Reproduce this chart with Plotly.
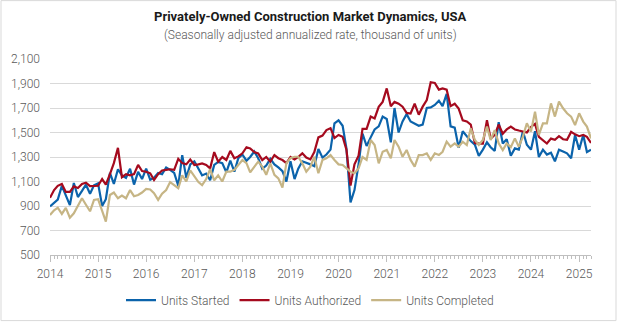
import pandas as pd
import plotly.graph_objects as go

# Monthly series, thousands of units (SAAR), January 2014 - April 2025
started = [
    897, 928, 953, 1064, 984, 907, 1088, 973, 1023, 1074, 1000, 1069,      # 2014
    1085, 900, 955, 1170, 1080, 1200, 1150, 1130, 1205, 1075, 1179, 1120,   # 2015
    1205, 1115, 1130, 1170, 1160, 1215, 1195, 1170, 1065, 1315, 1130, 1240,  # 2016
    1265, 1205, 1150, 1165, 1110, 1235, 1260, 1250, 1175, 1270, 1180, 1290,  # 2017
    1320, 1270, 1300, 1345, 1290, 1205, 1230, 1285, 1240, 1215, 1185, 1100,  # 2018
    1265, 1120, 1205, 1265, 1255, 1240, 1225, 1365, 1295, 1320, 1360, 1575,  # 2019
    1600, 1555, 1370, 930, 1030, 1240, 1490, 1390, 1460, 1525, 1550, 1630,   # 2020
    1610, 1420, 1700, 1500, 1590, 1650, 1590, 1575, 1555, 1565, 1700, 1705,  # 2021
    1725, 1760, 1715, 1815, 1550, 1540, 1375, 1510, 1470, 1430, 1400, 1310,  # 2022
    1360, 1420, 1380, 1350, 1585, 1410, 1445, 1310, 1370, 1360, 1510, 1400,  # 2023
    1360, 1510, 1300, 1360, 1320, 1335, 1265, 1360, 1345, 1330, 1290, 1480,  # 2024
    1360, 1480, 1340, 1360,                                                  # 2025
]
authorized = [
    967, 1030, 1065, 1080, 1015, 1015, 1060, 1047, 1080, 1090, 1062, 1063,
    1065, 1120, 1075, 1160, 1250, 1375, 1135, 1160, 1150, 1160, 1235, 1185,
    1180, 1167, 1112, 1160, 1190, 1195, 1200, 1195, 1285, 1250, 1240, 1280,
    1235, 1240, 1248, 1235, 1207, 1340, 1262, 1300, 1276, 1350, 1290, 1305,
    1330, 1380, 1370, 1340, 1330, 1275, 1300, 1262, 1316, 1290, 1275, 1250,
    1300, 1280, 1300, 1330, 1295, 1280, 1340, 1460, 1475, 1520, 1535, 1455,
    1480, 1465, 1360, 1066, 1240, 1310, 1530, 1530, 1630, 1615, 1710, 1750,
    1860, 1715, 1750, 1735, 1711, 1660, 1655, 1735, 1645, 1711, 1765, 1910,
    1905, 1850, 1860, 1850, 1715, 1735, 1695, 1600, 1590, 1565, 1415, 1410,
    1410, 1600, 1450, 1480, 1565, 1490, 1525, 1548, 1525, 1516, 1510, 1500,
    1545, 1570, 1465, 1440, 1410, 1450, 1440, 1470, 1445, 1440, 1505, 1485,
    1470, 1480, 1465, 1415,
]
completed = [
    827, 865, 886, 835, 885, 804, 840, 900, 963, 910, 857, 950,
    955, 860, 772, 990, 1010, 963, 985, 963, 1030, 980, 990, 1010,
    1040, 1035, 1005, 950, 1000, 1030, 1095, 1070, 1045, 1150, 1100, 1190,
    1140, 1095, 1070, 1120, 1200, 1110, 1150, 1100, 1180, 1180, 1195, 1235,
    1275, 1250, 1175, 1220, 1262, 1221, 1155, 1248, 1155, 1126, 1050, 1250,
    1290, 1302, 1302, 1248, 1180, 1221, 1302, 1167, 1276, 1289, 1316, 1276,
    1240, 1235, 1210, 1180, 1167, 1207, 1300, 1276, 1439, 1398, 1248, 1343,
    1357, 1289, 1439, 1384, 1302, 1357, 1276, 1221, 1316, 1316, 1330, 1276,
    1330, 1316, 1343, 1425, 1384, 1411, 1384, 1425, 1398, 1534, 1439, 1398,
    1439, 1548, 1439, 1520, 1411, 1357, 1411, 1380, 1452, 1384, 1466, 1575,
    1507, 1670, 1480, 1575, 1575, 1738, 1630, 1752, 1698, 1657, 1630, 1561,
    1657, 1589, 1548, 1452,
]
months = pd.date_range("2014-01-01", periods=len(started), freq="MS")

series_names = ["Units Started", "Units Authorized", "Units Completed"]
series_colors = ["#0B63AB", "#A50A1E", "#C6B585"]
y_ticks = [500, 700, 900, 1100, 1300, 1500, 1700, 1900, 2100]

FONT = "Roboto, 'Noto Sans', sans-serif"
TEXT_GREY = "#595959"
GRID = "#D9D9D9"

# Plot area geometry in pixels, used to place the heading and the frame
PLOT_LEFT, PLOT_W = 50, 541
PLOT_BOTTOM, PLOT_H = 255, 195.7


def px_x(px):
    return (px - PLOT_LEFT) / PLOT_W


def px_y(py):
    return (PLOT_BOTTOM - py) / PLOT_H


fig = go.Figure()
for name, values, color in zip(series_names, [started, authorized, completed], series_colors):
    fig.add_trace(go.Scatter(
        x=months, y=values, mode="lines", name=name,
        line=dict(color=color, width=2.2),
    ))

fig.update_layout(
    width=620, height=322,
    margin=dict(l=50, r=29, t=59, b=67, autoexpand=False),
    paper_bgcolor="white", plot_bgcolor="white",
    font=dict(family=FONT, size=12, color=TEXT_GREY),
    showlegend=True,
    legend=dict(
        orientation="h", xref="container", yref="container",
        x=0.5, xanchor="center", y=0.068, yanchor="middle",
        font=dict(family=FONT, size=12, color=TEXT_GREY, weight=300),
        itemwidth=30, tracegroupgap=0,
    ),
    annotations=[
        dict(text="<b>Privately-Owned Construction Market Dynamics, USA</b>",
             xref="paper", yref="paper", x=px_x(310), y=px_y(17),
             xanchor="center", yanchor="middle", showarrow=False,
             font=dict(family=FONT, size=13, color="#1A1A1A")),
        dict(text="(Seasonally adjusted annualized rate, thousand of units)",
             xref="paper", yref="paper", x=px_x(310), y=px_y(35),
             xanchor="center", yanchor="middle", showarrow=False,
             font=dict(family=FONT, size=12, color=TEXT_GREY, weight=300)),
    ],
    shapes=[
        dict(type="rect", xref="paper", yref="paper",
             x0=px_x(1), x1=px_x(616), y0=px_y(320.5), y1=px_y(1),
             line=dict(color=GRID, width=1), fillcolor="rgba(0,0,0,0)", layer="below"),
    ],
)

fig.update_xaxes(
    type="date", automargin=False,
    range=[months[0], months[-1]],
    dtick="M12", tick0="2014-01-01", tickformat="%Y",
    ticks="outside", ticklen=6, tickcolor="#BFBFBF", tickwidth=1,
    minor=dict(dtick="M1", ticks="outside", ticklen=3, tickcolor="#BFBFBF", showgrid=False),
    showline=True, linecolor="#BFBFBF", linewidth=1,
    showgrid=False, zeroline=False,
    ticklabelstandoff=2,
    tickfont=dict(family=FONT, size=12, color=TEXT_GREY, weight=300),
)
fig.update_yaxes(
    automargin=False,
    range=[500, 2100],
    tickvals=y_ticks, tickformat=",",
    showgrid=True, gridcolor=GRID, gridwidth=1,
    showline=False, zeroline=False, ticks="",
    ticklabelstandoff=9,
    tickfont=dict(family=FONT, size=12, color=TEXT_GREY, weight=300),
)

fig.write_html("out.html")
